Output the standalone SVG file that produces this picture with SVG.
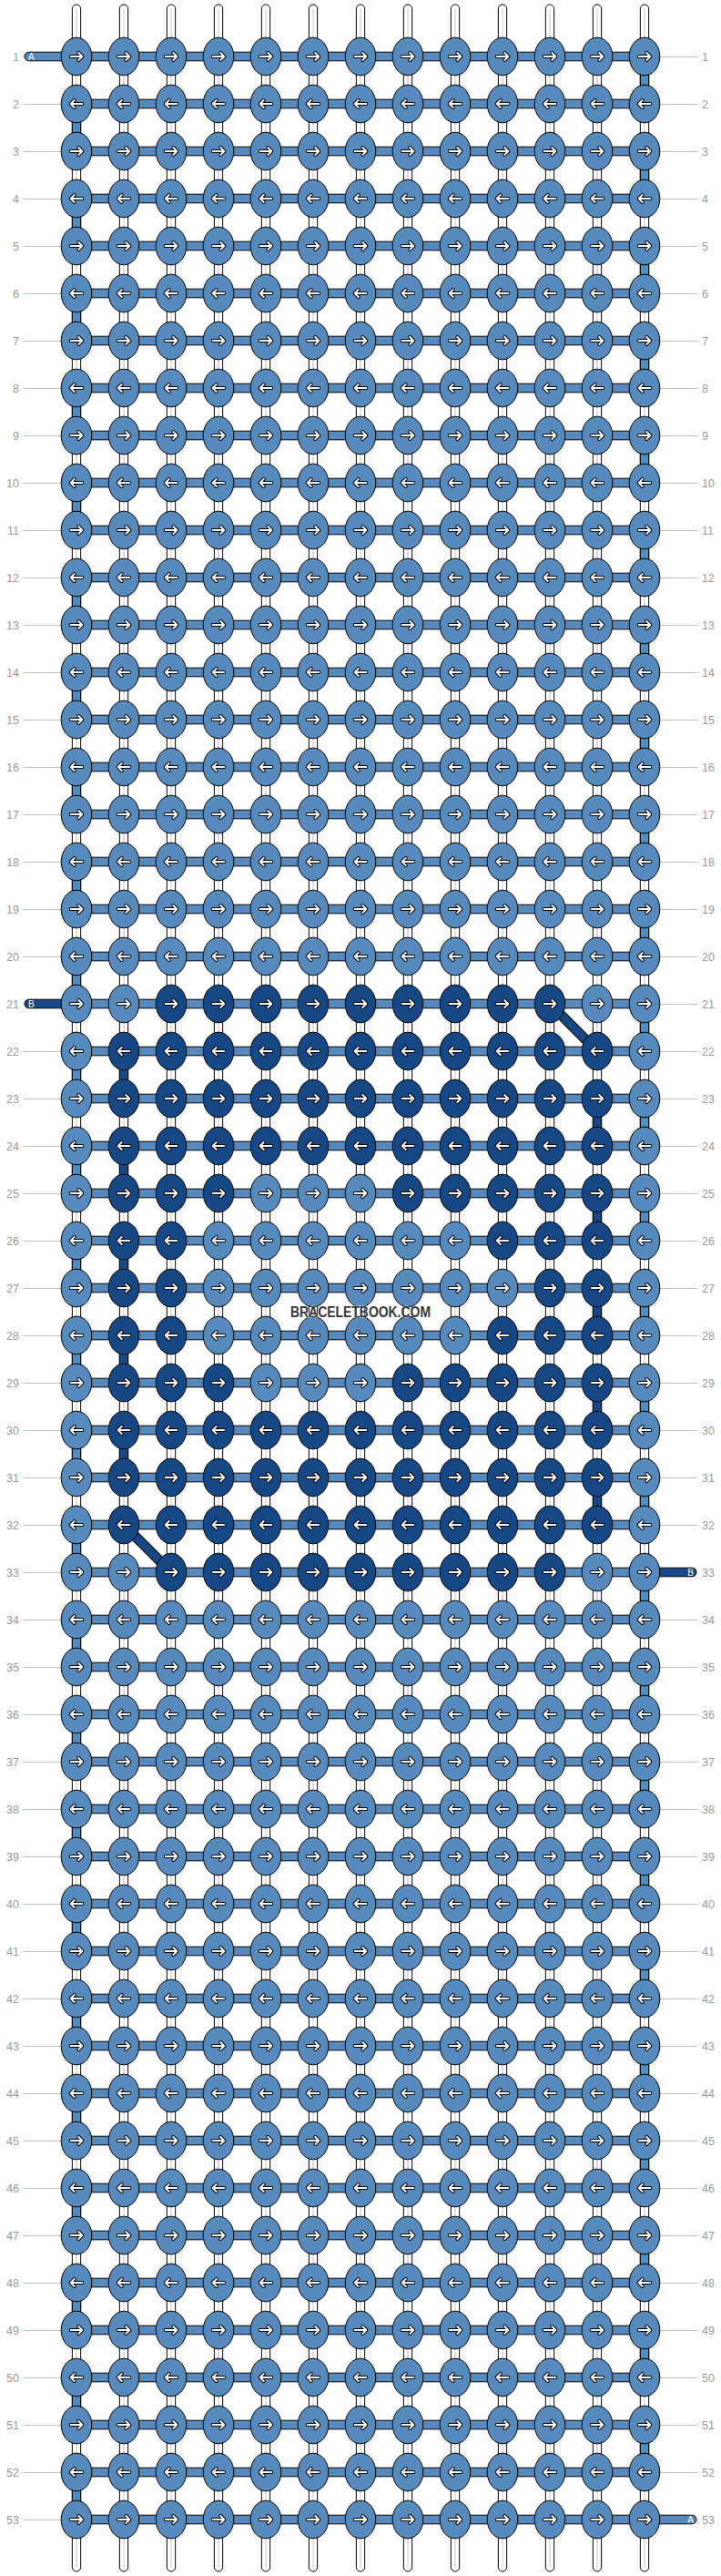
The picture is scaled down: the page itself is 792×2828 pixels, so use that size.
<svg xmlns="http://www.w3.org/2000/svg" xmlns:xlink="http://www.w3.org/1999/xlink" width="792" height="2828" viewBox="0 0 792 2828">
<style>
.w{fill:#fff;stroke:#000;stroke-width:1}
.g{stroke:#c4c4c4;stroke-width:1;fill:none}
.L{fill:#5689bc;stroke:#000;stroke-width:1}
.D{fill:#154885;stroke:#000;stroke-width:1}
.n{font-family:"Liberation Sans",Arial,sans-serif;font-size:12.5px;fill:#999}
.e{text-anchor:end}
.ll{stroke:#c0c0c0;stroke-width:1;fill:none}
.st{font-family:"Liberation Sans",Arial,sans-serif;font-size:10px;fill:#fff}
.ab{fill:none;stroke:#000;stroke-width:4;stroke-linecap:round;stroke-linejoin:round}
.aw{fill:none;stroke:#fff;stroke-width:2;stroke-linecap:round;stroke-linejoin:round}
</style>
<defs>
<g id="ar"><path class="ab" d="M-6.3 0H6.3M2.3-4L6.3 0L2.3 4"/><path class="aw" d="M-6.3 0H6.3M2.3-4L6.3 0L2.3 4"/></g>
<g id="LR"><ellipse rx="16.8" ry="20.8" class="L"/><use href="#ar"/></g>
<g id="LL"><ellipse rx="16.8" ry="20.8" class="L"/><use href="#ar" transform="rotate(180)"/></g>
<g id="DR"><ellipse rx="16.8" ry="20.8" class="D"/><use href="#ar"/></g>
<g id="DL"><ellipse rx="16.8" ry="20.8" class="D"/><use href="#ar" transform="rotate(180)"/></g>
<g id="wp"><rect x="-4.65" y="5" width="9.3" height="2818" rx="4.65" class="w"/><path class="g" d="M0 10V2818"/></g>
<rect id="hb" x="84" y="-4.8" width="624" height="9.6" class="L"/>
<rect id="va" x="-4.65" y="0" width="9.3" height="52" class="L"/>
<rect id="vb" x="-4.65" y="0" width="9.3" height="52" class="D"/>
</defs>
<g id="connectors">
<g id="warps"><use href="#wp" x="84"/><use href="#wp" x="136"/><use href="#wp" x="188"/><use href="#wp" x="240"/><use href="#wp" x="292"/><use href="#wp" x="344"/><use href="#wp" x="396"/><use href="#wp" x="448"/><use href="#wp" x="500"/><use href="#wp" x="552"/><use href="#wp" x="604"/><use href="#wp" x="656"/><use href="#wp" x="708"/></g>
<g id="turnsA">
<use href="#va" x="708" y="62"/><use href="#va" x="84" y="114"/><use href="#va" x="708" y="166"/><use href="#va" x="84" y="218"/><use href="#va" x="708" y="270"/><use href="#va" x="84" y="322"/><use href="#va" x="708" y="374"/><use href="#va" x="84" y="426"/><use href="#va" x="708" y="478"/><use href="#va" x="84" y="530"/><use href="#va" x="708" y="582"/><use href="#va" x="84" y="634"/><use href="#va" x="708" y="686"/><use href="#va" x="84" y="738"/><use href="#va" x="708" y="790"/><use href="#va" x="84" y="842"/><use href="#va" x="708" y="894"/><use href="#va" x="84" y="946"/><use href="#va" x="708" y="998"/><use href="#va" x="84" y="1050"/><use href="#va" x="708" y="1102"/><use href="#va" x="84" y="1154"/><use href="#va" x="708" y="1206"/><use href="#va" x="84" y="1258"/><use href="#va" x="708" y="1310"/><use href="#va" x="84" y="1362"/><use href="#va" x="708" y="1414"/><use href="#va" x="84" y="1466"/><use href="#va" x="708" y="1518"/><use href="#va" x="84" y="1570"/><use href="#va" x="708" y="1622"/><use href="#va" x="84" y="1674"/><use href="#va" x="708" y="1726"/><use href="#va" x="84" y="1778"/><use href="#va" x="708" y="1830"/><use href="#va" x="84" y="1882"/><use href="#va" x="708" y="1934"/><use href="#va" x="84" y="1986"/><use href="#va" x="708" y="2038"/><use href="#va" x="84" y="2090"/><use href="#va" x="708" y="2142"/><use href="#va" x="84" y="2194"/><use href="#va" x="708" y="2246"/><use href="#va" x="84" y="2298"/><use href="#va" x="708" y="2350"/><use href="#va" x="84" y="2402"/><use href="#va" x="708" y="2454"/><use href="#va" x="84" y="2506"/><use href="#va" x="708" y="2558"/><use href="#va" x="84" y="2610"/><use href="#va" x="708" y="2662"/><use href="#va" x="84" y="2714"/>
</g>
<g id="turnsB">
<use href="#vb" x="136" y="1154"/><use href="#vb" x="656" y="1206"/><use href="#vb" x="136" y="1258"/><use href="#vb" x="656" y="1310"/><use href="#vb" x="136" y="1362"/><use href="#vb" x="656" y="1414"/><use href="#vb" x="136" y="1466"/><use href="#vb" x="656" y="1518"/><use href="#vb" x="136" y="1570"/><use href="#vb" x="656" y="1622"/>
</g>
<g id="bands">
<use href="#hb" y="62"/><use href="#hb" y="114"/><use href="#hb" y="166"/><use href="#hb" y="218"/><use href="#hb" y="270"/><use href="#hb" y="322"/><use href="#hb" y="374"/><use href="#hb" y="426"/><use href="#hb" y="478"/><use href="#hb" y="530"/><use href="#hb" y="582"/><use href="#hb" y="634"/><use href="#hb" y="686"/><use href="#hb" y="738"/><use href="#hb" y="790"/><use href="#hb" y="842"/><use href="#hb" y="894"/><use href="#hb" y="946"/><use href="#hb" y="998"/><use href="#hb" y="1050"/><use href="#hb" y="1102"/><use href="#hb" y="1154"/><use href="#hb" y="1206"/><use href="#hb" y="1258"/><use href="#hb" y="1310"/><use href="#hb" y="1362"/><use href="#hb" y="1414"/><use href="#hb" y="1466"/><use href="#hb" y="1518"/><use href="#hb" y="1570"/><use href="#hb" y="1622"/><use href="#hb" y="1674"/><use href="#hb" y="1726"/><use href="#hb" y="1778"/><use href="#hb" y="1830"/><use href="#hb" y="1882"/><use href="#hb" y="1934"/><use href="#hb" y="1986"/><use href="#hb" y="2038"/><use href="#hb" y="2090"/><use href="#hb" y="2142"/><use href="#hb" y="2194"/><use href="#hb" y="2246"/><use href="#hb" y="2298"/><use href="#hb" y="2350"/><use href="#hb" y="2402"/><use href="#hb" y="2454"/><use href="#hb" y="2506"/><use href="#hb" y="2558"/><use href="#hb" y="2610"/><use href="#hb" y="2662"/><use href="#hb" y="2714"/><use href="#hb" y="2766"/>
</g>
<g id="stubs">
<rect x="27" y="57.2" width="50" height="9.6" rx="4.8" class="L"/>
<rect x="27" y="1097.2" width="50" height="9.6" rx="4.8" class="D"/>
<rect x="715" y="1721.2" width="50" height="9.6" rx="4.8" class="D"/>
<rect x="715" y="2761.2" width="50" height="9.6" rx="4.8" class="L"/>
<text class="st" x="31" y="65.8">A</text>
<text class="st" x="31" y="1105.8">B</text>
<text class="st e" x="762" y="1729.8">B</text>
<text class="st e" x="762" y="2769.8">A</text>
</g>
<g id="diagonals">
<path d="M604 1102L656 1154M136 1674L188 1726" stroke="#000" stroke-width="11" fill="none"/>
<path d="M604 1102L656 1154M136 1674L188 1726" stroke="#154885" stroke-width="9" fill="none"/>
</g>
<g id="labellines">
<path class="ll" d="M26 114.5H67M26 166.5H67M26 218.5H67M26 270.5H67M26 322.5H67M26 374.5H67M26 426.5H67M26 478.5H67M26 530.5H67M26 582.5H67M26 634.5H67M26 686.5H67M26 738.5H67M26 790.5H67M26 842.5H67M26 894.5H67M26 946.5H67M26 998.5H67M26 1050.5H67M26 1154.5H67M26 1206.5H67M26 1258.5H67M26 1310.5H67M26 1362.5H67M26 1414.5H67M26 1466.5H67M26 1518.5H67M26 1570.5H67M26 1622.5H67M26 1674.5H67M26 1726.5H67M26 1778.5H67M26 1830.5H67M26 1882.5H67M26 1934.5H67M26 1986.5H67M26 2038.5H67M26 2090.5H67M26 2142.5H67M26 2194.5H67M26 2246.5H67M26 2298.5H67M26 2350.5H67M26 2402.5H67M26 2454.5H67M26 2506.5H67M26 2558.5H67M26 2610.5H67M26 2662.5H67M26 2714.5H67M26 2766.5H67"/>
<path class="ll" d="M725 62.5H766M725 114.5H766M725 166.5H766M725 218.5H766M725 270.5H766M725 322.5H766M725 374.5H766M725 426.5H766M725 478.5H766M725 530.5H766M725 582.5H766M725 634.5H766M725 686.5H766M725 738.5H766M725 790.5H766M725 842.5H766M725 894.5H766M725 946.5H766M725 998.5H766M725 1050.5H766M725 1102.5H766M725 1154.5H766M725 1206.5H766M725 1258.5H766M725 1310.5H766M725 1362.5H766M725 1414.5H766M725 1466.5H766M725 1518.5H766M725 1570.5H766M725 1622.5H766M725 1674.5H766M725 1778.5H766M725 1830.5H766M725 1882.5H766M725 1934.5H766M725 1986.5H766M725 2038.5H766M725 2090.5H766M725 2142.5H766M725 2194.5H766M725 2246.5H766M725 2298.5H766M725 2350.5H766M725 2402.5H766M725 2454.5H766M725 2506.5H766M725 2558.5H766M725 2610.5H766M725 2662.5H766M725 2714.5H766"/>
</g>
</g>
<g id="knots">
<g id="r1" transform="translate(0,62)"><use id="k1-1" href="#LR" x="84"/><use id="k1-2" href="#LR" x="136"/><use id="k1-3" href="#LR" x="188"/><use id="k1-4" href="#LR" x="240"/><use id="k1-5" href="#LR" x="292"/><use id="k1-6" href="#LR" x="344"/><use id="k1-7" href="#LR" x="396"/><use id="k1-8" href="#LR" x="448"/><use id="k1-9" href="#LR" x="500"/><use id="k1-10" href="#LR" x="552"/><use id="k1-11" href="#LR" x="604"/><use id="k1-12" href="#LR" x="656"/><use id="k1-13" href="#LR" x="708"/></g>
<g id="r2" transform="translate(0,114)"><use id="k2-1" href="#LL" x="84"/><use id="k2-2" href="#LL" x="136"/><use id="k2-3" href="#LL" x="188"/><use id="k2-4" href="#LL" x="240"/><use id="k2-5" href="#LL" x="292"/><use id="k2-6" href="#LL" x="344"/><use id="k2-7" href="#LL" x="396"/><use id="k2-8" href="#LL" x="448"/><use id="k2-9" href="#LL" x="500"/><use id="k2-10" href="#LL" x="552"/><use id="k2-11" href="#LL" x="604"/><use id="k2-12" href="#LL" x="656"/><use id="k2-13" href="#LL" x="708"/></g>
<g id="r3" transform="translate(0,166)"><use id="k3-1" href="#LR" x="84"/><use id="k3-2" href="#LR" x="136"/><use id="k3-3" href="#LR" x="188"/><use id="k3-4" href="#LR" x="240"/><use id="k3-5" href="#LR" x="292"/><use id="k3-6" href="#LR" x="344"/><use id="k3-7" href="#LR" x="396"/><use id="k3-8" href="#LR" x="448"/><use id="k3-9" href="#LR" x="500"/><use id="k3-10" href="#LR" x="552"/><use id="k3-11" href="#LR" x="604"/><use id="k3-12" href="#LR" x="656"/><use id="k3-13" href="#LR" x="708"/></g>
<g id="r4" transform="translate(0,218)"><use id="k4-1" href="#LL" x="84"/><use id="k4-2" href="#LL" x="136"/><use id="k4-3" href="#LL" x="188"/><use id="k4-4" href="#LL" x="240"/><use id="k4-5" href="#LL" x="292"/><use id="k4-6" href="#LL" x="344"/><use id="k4-7" href="#LL" x="396"/><use id="k4-8" href="#LL" x="448"/><use id="k4-9" href="#LL" x="500"/><use id="k4-10" href="#LL" x="552"/><use id="k4-11" href="#LL" x="604"/><use id="k4-12" href="#LL" x="656"/><use id="k4-13" href="#LL" x="708"/></g>
<g id="r5" transform="translate(0,270)"><use id="k5-1" href="#LR" x="84"/><use id="k5-2" href="#LR" x="136"/><use id="k5-3" href="#LR" x="188"/><use id="k5-4" href="#LR" x="240"/><use id="k5-5" href="#LR" x="292"/><use id="k5-6" href="#LR" x="344"/><use id="k5-7" href="#LR" x="396"/><use id="k5-8" href="#LR" x="448"/><use id="k5-9" href="#LR" x="500"/><use id="k5-10" href="#LR" x="552"/><use id="k5-11" href="#LR" x="604"/><use id="k5-12" href="#LR" x="656"/><use id="k5-13" href="#LR" x="708"/></g>
<g id="r6" transform="translate(0,322)"><use id="k6-1" href="#LL" x="84"/><use id="k6-2" href="#LL" x="136"/><use id="k6-3" href="#LL" x="188"/><use id="k6-4" href="#LL" x="240"/><use id="k6-5" href="#LL" x="292"/><use id="k6-6" href="#LL" x="344"/><use id="k6-7" href="#LL" x="396"/><use id="k6-8" href="#LL" x="448"/><use id="k6-9" href="#LL" x="500"/><use id="k6-10" href="#LL" x="552"/><use id="k6-11" href="#LL" x="604"/><use id="k6-12" href="#LL" x="656"/><use id="k6-13" href="#LL" x="708"/></g>
<g id="r7" transform="translate(0,374)"><use id="k7-1" href="#LR" x="84"/><use id="k7-2" href="#LR" x="136"/><use id="k7-3" href="#LR" x="188"/><use id="k7-4" href="#LR" x="240"/><use id="k7-5" href="#LR" x="292"/><use id="k7-6" href="#LR" x="344"/><use id="k7-7" href="#LR" x="396"/><use id="k7-8" href="#LR" x="448"/><use id="k7-9" href="#LR" x="500"/><use id="k7-10" href="#LR" x="552"/><use id="k7-11" href="#LR" x="604"/><use id="k7-12" href="#LR" x="656"/><use id="k7-13" href="#LR" x="708"/></g>
<g id="r8" transform="translate(0,426)"><use id="k8-1" href="#LL" x="84"/><use id="k8-2" href="#LL" x="136"/><use id="k8-3" href="#LL" x="188"/><use id="k8-4" href="#LL" x="240"/><use id="k8-5" href="#LL" x="292"/><use id="k8-6" href="#LL" x="344"/><use id="k8-7" href="#LL" x="396"/><use id="k8-8" href="#LL" x="448"/><use id="k8-9" href="#LL" x="500"/><use id="k8-10" href="#LL" x="552"/><use id="k8-11" href="#LL" x="604"/><use id="k8-12" href="#LL" x="656"/><use id="k8-13" href="#LL" x="708"/></g>
<g id="r9" transform="translate(0,478)"><use id="k9-1" href="#LR" x="84"/><use id="k9-2" href="#LR" x="136"/><use id="k9-3" href="#LR" x="188"/><use id="k9-4" href="#LR" x="240"/><use id="k9-5" href="#LR" x="292"/><use id="k9-6" href="#LR" x="344"/><use id="k9-7" href="#LR" x="396"/><use id="k9-8" href="#LR" x="448"/><use id="k9-9" href="#LR" x="500"/><use id="k9-10" href="#LR" x="552"/><use id="k9-11" href="#LR" x="604"/><use id="k9-12" href="#LR" x="656"/><use id="k9-13" href="#LR" x="708"/></g>
<g id="r10" transform="translate(0,530)"><use id="k10-1" href="#LL" x="84"/><use id="k10-2" href="#LL" x="136"/><use id="k10-3" href="#LL" x="188"/><use id="k10-4" href="#LL" x="240"/><use id="k10-5" href="#LL" x="292"/><use id="k10-6" href="#LL" x="344"/><use id="k10-7" href="#LL" x="396"/><use id="k10-8" href="#LL" x="448"/><use id="k10-9" href="#LL" x="500"/><use id="k10-10" href="#LL" x="552"/><use id="k10-11" href="#LL" x="604"/><use id="k10-12" href="#LL" x="656"/><use id="k10-13" href="#LL" x="708"/></g>
<g id="r11" transform="translate(0,582)"><use id="k11-1" href="#LR" x="84"/><use id="k11-2" href="#LR" x="136"/><use id="k11-3" href="#LR" x="188"/><use id="k11-4" href="#LR" x="240"/><use id="k11-5" href="#LR" x="292"/><use id="k11-6" href="#LR" x="344"/><use id="k11-7" href="#LR" x="396"/><use id="k11-8" href="#LR" x="448"/><use id="k11-9" href="#LR" x="500"/><use id="k11-10" href="#LR" x="552"/><use id="k11-11" href="#LR" x="604"/><use id="k11-12" href="#LR" x="656"/><use id="k11-13" href="#LR" x="708"/></g>
<g id="r12" transform="translate(0,634)"><use id="k12-1" href="#LL" x="84"/><use id="k12-2" href="#LL" x="136"/><use id="k12-3" href="#LL" x="188"/><use id="k12-4" href="#LL" x="240"/><use id="k12-5" href="#LL" x="292"/><use id="k12-6" href="#LL" x="344"/><use id="k12-7" href="#LL" x="396"/><use id="k12-8" href="#LL" x="448"/><use id="k12-9" href="#LL" x="500"/><use id="k12-10" href="#LL" x="552"/><use id="k12-11" href="#LL" x="604"/><use id="k12-12" href="#LL" x="656"/><use id="k12-13" href="#LL" x="708"/></g>
<g id="r13" transform="translate(0,686)"><use id="k13-1" href="#LR" x="84"/><use id="k13-2" href="#LR" x="136"/><use id="k13-3" href="#LR" x="188"/><use id="k13-4" href="#LR" x="240"/><use id="k13-5" href="#LR" x="292"/><use id="k13-6" href="#LR" x="344"/><use id="k13-7" href="#LR" x="396"/><use id="k13-8" href="#LR" x="448"/><use id="k13-9" href="#LR" x="500"/><use id="k13-10" href="#LR" x="552"/><use id="k13-11" href="#LR" x="604"/><use id="k13-12" href="#LR" x="656"/><use id="k13-13" href="#LR" x="708"/></g>
<g id="r14" transform="translate(0,738)"><use id="k14-1" href="#LL" x="84"/><use id="k14-2" href="#LL" x="136"/><use id="k14-3" href="#LL" x="188"/><use id="k14-4" href="#LL" x="240"/><use id="k14-5" href="#LL" x="292"/><use id="k14-6" href="#LL" x="344"/><use id="k14-7" href="#LL" x="396"/><use id="k14-8" href="#LL" x="448"/><use id="k14-9" href="#LL" x="500"/><use id="k14-10" href="#LL" x="552"/><use id="k14-11" href="#LL" x="604"/><use id="k14-12" href="#LL" x="656"/><use id="k14-13" href="#LL" x="708"/></g>
<g id="r15" transform="translate(0,790)"><use id="k15-1" href="#LR" x="84"/><use id="k15-2" href="#LR" x="136"/><use id="k15-3" href="#LR" x="188"/><use id="k15-4" href="#LR" x="240"/><use id="k15-5" href="#LR" x="292"/><use id="k15-6" href="#LR" x="344"/><use id="k15-7" href="#LR" x="396"/><use id="k15-8" href="#LR" x="448"/><use id="k15-9" href="#LR" x="500"/><use id="k15-10" href="#LR" x="552"/><use id="k15-11" href="#LR" x="604"/><use id="k15-12" href="#LR" x="656"/><use id="k15-13" href="#LR" x="708"/></g>
<g id="r16" transform="translate(0,842)"><use id="k16-1" href="#LL" x="84"/><use id="k16-2" href="#LL" x="136"/><use id="k16-3" href="#LL" x="188"/><use id="k16-4" href="#LL" x="240"/><use id="k16-5" href="#LL" x="292"/><use id="k16-6" href="#LL" x="344"/><use id="k16-7" href="#LL" x="396"/><use id="k16-8" href="#LL" x="448"/><use id="k16-9" href="#LL" x="500"/><use id="k16-10" href="#LL" x="552"/><use id="k16-11" href="#LL" x="604"/><use id="k16-12" href="#LL" x="656"/><use id="k16-13" href="#LL" x="708"/></g>
<g id="r17" transform="translate(0,894)"><use id="k17-1" href="#LR" x="84"/><use id="k17-2" href="#LR" x="136"/><use id="k17-3" href="#LR" x="188"/><use id="k17-4" href="#LR" x="240"/><use id="k17-5" href="#LR" x="292"/><use id="k17-6" href="#LR" x="344"/><use id="k17-7" href="#LR" x="396"/><use id="k17-8" href="#LR" x="448"/><use id="k17-9" href="#LR" x="500"/><use id="k17-10" href="#LR" x="552"/><use id="k17-11" href="#LR" x="604"/><use id="k17-12" href="#LR" x="656"/><use id="k17-13" href="#LR" x="708"/></g>
<g id="r18" transform="translate(0,946)"><use id="k18-1" href="#LL" x="84"/><use id="k18-2" href="#LL" x="136"/><use id="k18-3" href="#LL" x="188"/><use id="k18-4" href="#LL" x="240"/><use id="k18-5" href="#LL" x="292"/><use id="k18-6" href="#LL" x="344"/><use id="k18-7" href="#LL" x="396"/><use id="k18-8" href="#LL" x="448"/><use id="k18-9" href="#LL" x="500"/><use id="k18-10" href="#LL" x="552"/><use id="k18-11" href="#LL" x="604"/><use id="k18-12" href="#LL" x="656"/><use id="k18-13" href="#LL" x="708"/></g>
<g id="r19" transform="translate(0,998)"><use id="k19-1" href="#LR" x="84"/><use id="k19-2" href="#LR" x="136"/><use id="k19-3" href="#LR" x="188"/><use id="k19-4" href="#LR" x="240"/><use id="k19-5" href="#LR" x="292"/><use id="k19-6" href="#LR" x="344"/><use id="k19-7" href="#LR" x="396"/><use id="k19-8" href="#LR" x="448"/><use id="k19-9" href="#LR" x="500"/><use id="k19-10" href="#LR" x="552"/><use id="k19-11" href="#LR" x="604"/><use id="k19-12" href="#LR" x="656"/><use id="k19-13" href="#LR" x="708"/></g>
<g id="r20" transform="translate(0,1050)"><use id="k20-1" href="#LL" x="84"/><use id="k20-2" href="#LL" x="136"/><use id="k20-3" href="#LL" x="188"/><use id="k20-4" href="#LL" x="240"/><use id="k20-5" href="#LL" x="292"/><use id="k20-6" href="#LL" x="344"/><use id="k20-7" href="#LL" x="396"/><use id="k20-8" href="#LL" x="448"/><use id="k20-9" href="#LL" x="500"/><use id="k20-10" href="#LL" x="552"/><use id="k20-11" href="#LL" x="604"/><use id="k20-12" href="#LL" x="656"/><use id="k20-13" href="#LL" x="708"/></g>
<g id="r21" transform="translate(0,1102)"><use id="k21-1" href="#LR" x="84"/><use id="k21-2" href="#LR" x="136"/><use id="k21-3" href="#DR" x="188"/><use id="k21-4" href="#DR" x="240"/><use id="k21-5" href="#DR" x="292"/><use id="k21-6" href="#DR" x="344"/><use id="k21-7" href="#DR" x="396"/><use id="k21-8" href="#DR" x="448"/><use id="k21-9" href="#DR" x="500"/><use id="k21-10" href="#DR" x="552"/><use id="k21-11" href="#DR" x="604"/><use id="k21-12" href="#LR" x="656"/><use id="k21-13" href="#LR" x="708"/></g>
<g id="r22" transform="translate(0,1154)"><use id="k22-1" href="#LL" x="84"/><use id="k22-2" href="#DL" x="136"/><use id="k22-3" href="#DL" x="188"/><use id="k22-4" href="#DL" x="240"/><use id="k22-5" href="#DL" x="292"/><use id="k22-6" href="#DL" x="344"/><use id="k22-7" href="#DL" x="396"/><use id="k22-8" href="#DL" x="448"/><use id="k22-9" href="#DL" x="500"/><use id="k22-10" href="#DL" x="552"/><use id="k22-11" href="#DL" x="604"/><use id="k22-12" href="#DL" x="656"/><use id="k22-13" href="#LL" x="708"/></g>
<g id="r23" transform="translate(0,1206)"><use id="k23-1" href="#LR" x="84"/><use id="k23-2" href="#DR" x="136"/><use id="k23-3" href="#DR" x="188"/><use id="k23-4" href="#DR" x="240"/><use id="k23-5" href="#DR" x="292"/><use id="k23-6" href="#DR" x="344"/><use id="k23-7" href="#DR" x="396"/><use id="k23-8" href="#DR" x="448"/><use id="k23-9" href="#DR" x="500"/><use id="k23-10" href="#DR" x="552"/><use id="k23-11" href="#DR" x="604"/><use id="k23-12" href="#DR" x="656"/><use id="k23-13" href="#LR" x="708"/></g>
<g id="r24" transform="translate(0,1258)"><use id="k24-1" href="#LL" x="84"/><use id="k24-2" href="#DL" x="136"/><use id="k24-3" href="#DL" x="188"/><use id="k24-4" href="#DL" x="240"/><use id="k24-5" href="#DL" x="292"/><use id="k24-6" href="#DL" x="344"/><use id="k24-7" href="#DL" x="396"/><use id="k24-8" href="#DL" x="448"/><use id="k24-9" href="#DL" x="500"/><use id="k24-10" href="#DL" x="552"/><use id="k24-11" href="#DL" x="604"/><use id="k24-12" href="#DL" x="656"/><use id="k24-13" href="#LL" x="708"/></g>
<g id="r25" transform="translate(0,1310)"><use id="k25-1" href="#LR" x="84"/><use id="k25-2" href="#DR" x="136"/><use id="k25-3" href="#DR" x="188"/><use id="k25-4" href="#DR" x="240"/><use id="k25-5" href="#LR" x="292"/><use id="k25-6" href="#LR" x="344"/><use id="k25-7" href="#LR" x="396"/><use id="k25-8" href="#DR" x="448"/><use id="k25-9" href="#DR" x="500"/><use id="k25-10" href="#DR" x="552"/><use id="k25-11" href="#DR" x="604"/><use id="k25-12" href="#DR" x="656"/><use id="k25-13" href="#LR" x="708"/></g>
<g id="r26" transform="translate(0,1362)"><use id="k26-1" href="#LL" x="84"/><use id="k26-2" href="#DL" x="136"/><use id="k26-3" href="#DL" x="188"/><use id="k26-4" href="#LL" x="240"/><use id="k26-5" href="#LL" x="292"/><use id="k26-6" href="#LL" x="344"/><use id="k26-7" href="#LL" x="396"/><use id="k26-8" href="#LL" x="448"/><use id="k26-9" href="#LL" x="500"/><use id="k26-10" href="#DL" x="552"/><use id="k26-11" href="#DL" x="604"/><use id="k26-12" href="#DL" x="656"/><use id="k26-13" href="#LL" x="708"/></g>
<g id="r27" transform="translate(0,1414)"><use id="k27-1" href="#LR" x="84"/><use id="k27-2" href="#DR" x="136"/><use id="k27-3" href="#DR" x="188"/><use id="k27-4" href="#LR" x="240"/><use id="k27-5" href="#LR" x="292"/><use id="k27-6" href="#LR" x="344"/><use id="k27-7" href="#LR" x="396"/><use id="k27-8" href="#LR" x="448"/><use id="k27-9" href="#LR" x="500"/><use id="k27-10" href="#LR" x="552"/><use id="k27-11" href="#DR" x="604"/><use id="k27-12" href="#DR" x="656"/><use id="k27-13" href="#LR" x="708"/></g>
<g id="r28" transform="translate(0,1466)"><use id="k28-1" href="#LL" x="84"/><use id="k28-2" href="#DL" x="136"/><use id="k28-3" href="#DL" x="188"/><use id="k28-4" href="#LL" x="240"/><use id="k28-5" href="#LL" x="292"/><use id="k28-6" href="#LL" x="344"/><use id="k28-7" href="#LL" x="396"/><use id="k28-8" href="#LL" x="448"/><use id="k28-9" href="#LL" x="500"/><use id="k28-10" href="#DL" x="552"/><use id="k28-11" href="#DL" x="604"/><use id="k28-12" href="#DL" x="656"/><use id="k28-13" href="#LL" x="708"/></g>
<g id="r29" transform="translate(0,1518)"><use id="k29-1" href="#LR" x="84"/><use id="k29-2" href="#DR" x="136"/><use id="k29-3" href="#DR" x="188"/><use id="k29-4" href="#DR" x="240"/><use id="k29-5" href="#LR" x="292"/><use id="k29-6" href="#LR" x="344"/><use id="k29-7" href="#LR" x="396"/><use id="k29-8" href="#DR" x="448"/><use id="k29-9" href="#DR" x="500"/><use id="k29-10" href="#DR" x="552"/><use id="k29-11" href="#DR" x="604"/><use id="k29-12" href="#DR" x="656"/><use id="k29-13" href="#LR" x="708"/></g>
<g id="r30" transform="translate(0,1570)"><use id="k30-1" href="#LL" x="84"/><use id="k30-2" href="#DL" x="136"/><use id="k30-3" href="#DL" x="188"/><use id="k30-4" href="#DL" x="240"/><use id="k30-5" href="#DL" x="292"/><use id="k30-6" href="#DL" x="344"/><use id="k30-7" href="#DL" x="396"/><use id="k30-8" href="#DL" x="448"/><use id="k30-9" href="#DL" x="500"/><use id="k30-10" href="#DL" x="552"/><use id="k30-11" href="#DL" x="604"/><use id="k30-12" href="#DL" x="656"/><use id="k30-13" href="#LL" x="708"/></g>
<g id="r31" transform="translate(0,1622)"><use id="k31-1" href="#LR" x="84"/><use id="k31-2" href="#DR" x="136"/><use id="k31-3" href="#DR" x="188"/><use id="k31-4" href="#DR" x="240"/><use id="k31-5" href="#DR" x="292"/><use id="k31-6" href="#DR" x="344"/><use id="k31-7" href="#DR" x="396"/><use id="k31-8" href="#DR" x="448"/><use id="k31-9" href="#DR" x="500"/><use id="k31-10" href="#DR" x="552"/><use id="k31-11" href="#DR" x="604"/><use id="k31-12" href="#DR" x="656"/><use id="k31-13" href="#LR" x="708"/></g>
<g id="r32" transform="translate(0,1674)"><use id="k32-1" href="#LL" x="84"/><use id="k32-2" href="#DL" x="136"/><use id="k32-3" href="#DL" x="188"/><use id="k32-4" href="#DL" x="240"/><use id="k32-5" href="#DL" x="292"/><use id="k32-6" href="#DL" x="344"/><use id="k32-7" href="#DL" x="396"/><use id="k32-8" href="#DL" x="448"/><use id="k32-9" href="#DL" x="500"/><use id="k32-10" href="#DL" x="552"/><use id="k32-11" href="#DL" x="604"/><use id="k32-12" href="#DL" x="656"/><use id="k32-13" href="#LL" x="708"/></g>
<g id="r33" transform="translate(0,1726)"><use id="k33-1" href="#LR" x="84"/><use id="k33-2" href="#LR" x="136"/><use id="k33-3" href="#DR" x="188"/><use id="k33-4" href="#DR" x="240"/><use id="k33-5" href="#DR" x="292"/><use id="k33-6" href="#DR" x="344"/><use id="k33-7" href="#DR" x="396"/><use id="k33-8" href="#DR" x="448"/><use id="k33-9" href="#DR" x="500"/><use id="k33-10" href="#DR" x="552"/><use id="k33-11" href="#DR" x="604"/><use id="k33-12" href="#LR" x="656"/><use id="k33-13" href="#LR" x="708"/></g>
<g id="r34" transform="translate(0,1778)"><use id="k34-1" href="#LL" x="84"/><use id="k34-2" href="#LL" x="136"/><use id="k34-3" href="#LL" x="188"/><use id="k34-4" href="#LL" x="240"/><use id="k34-5" href="#LL" x="292"/><use id="k34-6" href="#LL" x="344"/><use id="k34-7" href="#LL" x="396"/><use id="k34-8" href="#LL" x="448"/><use id="k34-9" href="#LL" x="500"/><use id="k34-10" href="#LL" x="552"/><use id="k34-11" href="#LL" x="604"/><use id="k34-12" href="#LL" x="656"/><use id="k34-13" href="#LL" x="708"/></g>
<g id="r35" transform="translate(0,1830)"><use id="k35-1" href="#LR" x="84"/><use id="k35-2" href="#LR" x="136"/><use id="k35-3" href="#LR" x="188"/><use id="k35-4" href="#LR" x="240"/><use id="k35-5" href="#LR" x="292"/><use id="k35-6" href="#LR" x="344"/><use id="k35-7" href="#LR" x="396"/><use id="k35-8" href="#LR" x="448"/><use id="k35-9" href="#LR" x="500"/><use id="k35-10" href="#LR" x="552"/><use id="k35-11" href="#LR" x="604"/><use id="k35-12" href="#LR" x="656"/><use id="k35-13" href="#LR" x="708"/></g>
<g id="r36" transform="translate(0,1882)"><use id="k36-1" href="#LL" x="84"/><use id="k36-2" href="#LL" x="136"/><use id="k36-3" href="#LL" x="188"/><use id="k36-4" href="#LL" x="240"/><use id="k36-5" href="#LL" x="292"/><use id="k36-6" href="#LL" x="344"/><use id="k36-7" href="#LL" x="396"/><use id="k36-8" href="#LL" x="448"/><use id="k36-9" href="#LL" x="500"/><use id="k36-10" href="#LL" x="552"/><use id="k36-11" href="#LL" x="604"/><use id="k36-12" href="#LL" x="656"/><use id="k36-13" href="#LL" x="708"/></g>
<g id="r37" transform="translate(0,1934)"><use id="k37-1" href="#LR" x="84"/><use id="k37-2" href="#LR" x="136"/><use id="k37-3" href="#LR" x="188"/><use id="k37-4" href="#LR" x="240"/><use id="k37-5" href="#LR" x="292"/><use id="k37-6" href="#LR" x="344"/><use id="k37-7" href="#LR" x="396"/><use id="k37-8" href="#LR" x="448"/><use id="k37-9" href="#LR" x="500"/><use id="k37-10" href="#LR" x="552"/><use id="k37-11" href="#LR" x="604"/><use id="k37-12" href="#LR" x="656"/><use id="k37-13" href="#LR" x="708"/></g>
<g id="r38" transform="translate(0,1986)"><use id="k38-1" href="#LL" x="84"/><use id="k38-2" href="#LL" x="136"/><use id="k38-3" href="#LL" x="188"/><use id="k38-4" href="#LL" x="240"/><use id="k38-5" href="#LL" x="292"/><use id="k38-6" href="#LL" x="344"/><use id="k38-7" href="#LL" x="396"/><use id="k38-8" href="#LL" x="448"/><use id="k38-9" href="#LL" x="500"/><use id="k38-10" href="#LL" x="552"/><use id="k38-11" href="#LL" x="604"/><use id="k38-12" href="#LL" x="656"/><use id="k38-13" href="#LL" x="708"/></g>
<g id="r39" transform="translate(0,2038)"><use id="k39-1" href="#LR" x="84"/><use id="k39-2" href="#LR" x="136"/><use id="k39-3" href="#LR" x="188"/><use id="k39-4" href="#LR" x="240"/><use id="k39-5" href="#LR" x="292"/><use id="k39-6" href="#LR" x="344"/><use id="k39-7" href="#LR" x="396"/><use id="k39-8" href="#LR" x="448"/><use id="k39-9" href="#LR" x="500"/><use id="k39-10" href="#LR" x="552"/><use id="k39-11" href="#LR" x="604"/><use id="k39-12" href="#LR" x="656"/><use id="k39-13" href="#LR" x="708"/></g>
<g id="r40" transform="translate(0,2090)"><use id="k40-1" href="#LL" x="84"/><use id="k40-2" href="#LL" x="136"/><use id="k40-3" href="#LL" x="188"/><use id="k40-4" href="#LL" x="240"/><use id="k40-5" href="#LL" x="292"/><use id="k40-6" href="#LL" x="344"/><use id="k40-7" href="#LL" x="396"/><use id="k40-8" href="#LL" x="448"/><use id="k40-9" href="#LL" x="500"/><use id="k40-10" href="#LL" x="552"/><use id="k40-11" href="#LL" x="604"/><use id="k40-12" href="#LL" x="656"/><use id="k40-13" href="#LL" x="708"/></g>
<g id="r41" transform="translate(0,2142)"><use id="k41-1" href="#LR" x="84"/><use id="k41-2" href="#LR" x="136"/><use id="k41-3" href="#LR" x="188"/><use id="k41-4" href="#LR" x="240"/><use id="k41-5" href="#LR" x="292"/><use id="k41-6" href="#LR" x="344"/><use id="k41-7" href="#LR" x="396"/><use id="k41-8" href="#LR" x="448"/><use id="k41-9" href="#LR" x="500"/><use id="k41-10" href="#LR" x="552"/><use id="k41-11" href="#LR" x="604"/><use id="k41-12" href="#LR" x="656"/><use id="k41-13" href="#LR" x="708"/></g>
<g id="r42" transform="translate(0,2194)"><use id="k42-1" href="#LL" x="84"/><use id="k42-2" href="#LL" x="136"/><use id="k42-3" href="#LL" x="188"/><use id="k42-4" href="#LL" x="240"/><use id="k42-5" href="#LL" x="292"/><use id="k42-6" href="#LL" x="344"/><use id="k42-7" href="#LL" x="396"/><use id="k42-8" href="#LL" x="448"/><use id="k42-9" href="#LL" x="500"/><use id="k42-10" href="#LL" x="552"/><use id="k42-11" href="#LL" x="604"/><use id="k42-12" href="#LL" x="656"/><use id="k42-13" href="#LL" x="708"/></g>
<g id="r43" transform="translate(0,2246)"><use id="k43-1" href="#LR" x="84"/><use id="k43-2" href="#LR" x="136"/><use id="k43-3" href="#LR" x="188"/><use id="k43-4" href="#LR" x="240"/><use id="k43-5" href="#LR" x="292"/><use id="k43-6" href="#LR" x="344"/><use id="k43-7" href="#LR" x="396"/><use id="k43-8" href="#LR" x="448"/><use id="k43-9" href="#LR" x="500"/><use id="k43-10" href="#LR" x="552"/><use id="k43-11" href="#LR" x="604"/><use id="k43-12" href="#LR" x="656"/><use id="k43-13" href="#LR" x="708"/></g>
<g id="r44" transform="translate(0,2298)"><use id="k44-1" href="#LL" x="84"/><use id="k44-2" href="#LL" x="136"/><use id="k44-3" href="#LL" x="188"/><use id="k44-4" href="#LL" x="240"/><use id="k44-5" href="#LL" x="292"/><use id="k44-6" href="#LL" x="344"/><use id="k44-7" href="#LL" x="396"/><use id="k44-8" href="#LL" x="448"/><use id="k44-9" href="#LL" x="500"/><use id="k44-10" href="#LL" x="552"/><use id="k44-11" href="#LL" x="604"/><use id="k44-12" href="#LL" x="656"/><use id="k44-13" href="#LL" x="708"/></g>
<g id="r45" transform="translate(0,2350)"><use id="k45-1" href="#LR" x="84"/><use id="k45-2" href="#LR" x="136"/><use id="k45-3" href="#LR" x="188"/><use id="k45-4" href="#LR" x="240"/><use id="k45-5" href="#LR" x="292"/><use id="k45-6" href="#LR" x="344"/><use id="k45-7" href="#LR" x="396"/><use id="k45-8" href="#LR" x="448"/><use id="k45-9" href="#LR" x="500"/><use id="k45-10" href="#LR" x="552"/><use id="k45-11" href="#LR" x="604"/><use id="k45-12" href="#LR" x="656"/><use id="k45-13" href="#LR" x="708"/></g>
<g id="r46" transform="translate(0,2402)"><use id="k46-1" href="#LL" x="84"/><use id="k46-2" href="#LL" x="136"/><use id="k46-3" href="#LL" x="188"/><use id="k46-4" href="#LL" x="240"/><use id="k46-5" href="#LL" x="292"/><use id="k46-6" href="#LL" x="344"/><use id="k46-7" href="#LL" x="396"/><use id="k46-8" href="#LL" x="448"/><use id="k46-9" href="#LL" x="500"/><use id="k46-10" href="#LL" x="552"/><use id="k46-11" href="#LL" x="604"/><use id="k46-12" href="#LL" x="656"/><use id="k46-13" href="#LL" x="708"/></g>
<g id="r47" transform="translate(0,2454)"><use id="k47-1" href="#LR" x="84"/><use id="k47-2" href="#LR" x="136"/><use id="k47-3" href="#LR" x="188"/><use id="k47-4" href="#LR" x="240"/><use id="k47-5" href="#LR" x="292"/><use id="k47-6" href="#LR" x="344"/><use id="k47-7" href="#LR" x="396"/><use id="k47-8" href="#LR" x="448"/><use id="k47-9" href="#LR" x="500"/><use id="k47-10" href="#LR" x="552"/><use id="k47-11" href="#LR" x="604"/><use id="k47-12" href="#LR" x="656"/><use id="k47-13" href="#LR" x="708"/></g>
<g id="r48" transform="translate(0,2506)"><use id="k48-1" href="#LL" x="84"/><use id="k48-2" href="#LL" x="136"/><use id="k48-3" href="#LL" x="188"/><use id="k48-4" href="#LL" x="240"/><use id="k48-5" href="#LL" x="292"/><use id="k48-6" href="#LL" x="344"/><use id="k48-7" href="#LL" x="396"/><use id="k48-8" href="#LL" x="448"/><use id="k48-9" href="#LL" x="500"/><use id="k48-10" href="#LL" x="552"/><use id="k48-11" href="#LL" x="604"/><use id="k48-12" href="#LL" x="656"/><use id="k48-13" href="#LL" x="708"/></g>
<g id="r49" transform="translate(0,2558)"><use id="k49-1" href="#LR" x="84"/><use id="k49-2" href="#LR" x="136"/><use id="k49-3" href="#LR" x="188"/><use id="k49-4" href="#LR" x="240"/><use id="k49-5" href="#LR" x="292"/><use id="k49-6" href="#LR" x="344"/><use id="k49-7" href="#LR" x="396"/><use id="k49-8" href="#LR" x="448"/><use id="k49-9" href="#LR" x="500"/><use id="k49-10" href="#LR" x="552"/><use id="k49-11" href="#LR" x="604"/><use id="k49-12" href="#LR" x="656"/><use id="k49-13" href="#LR" x="708"/></g>
<g id="r50" transform="translate(0,2610)"><use id="k50-1" href="#LL" x="84"/><use id="k50-2" href="#LL" x="136"/><use id="k50-3" href="#LL" x="188"/><use id="k50-4" href="#LL" x="240"/><use id="k50-5" href="#LL" x="292"/><use id="k50-6" href="#LL" x="344"/><use id="k50-7" href="#LL" x="396"/><use id="k50-8" href="#LL" x="448"/><use id="k50-9" href="#LL" x="500"/><use id="k50-10" href="#LL" x="552"/><use id="k50-11" href="#LL" x="604"/><use id="k50-12" href="#LL" x="656"/><use id="k50-13" href="#LL" x="708"/></g>
<g id="r51" transform="translate(0,2662)"><use id="k51-1" href="#LR" x="84"/><use id="k51-2" href="#LR" x="136"/><use id="k51-3" href="#LR" x="188"/><use id="k51-4" href="#LR" x="240"/><use id="k51-5" href="#LR" x="292"/><use id="k51-6" href="#LR" x="344"/><use id="k51-7" href="#LR" x="396"/><use id="k51-8" href="#LR" x="448"/><use id="k51-9" href="#LR" x="500"/><use id="k51-10" href="#LR" x="552"/><use id="k51-11" href="#LR" x="604"/><use id="k51-12" href="#LR" x="656"/><use id="k51-13" href="#LR" x="708"/></g>
<g id="r52" transform="translate(0,2714)"><use id="k52-1" href="#LL" x="84"/><use id="k52-2" href="#LL" x="136"/><use id="k52-3" href="#LL" x="188"/><use id="k52-4" href="#LL" x="240"/><use id="k52-5" href="#LL" x="292"/><use id="k52-6" href="#LL" x="344"/><use id="k52-7" href="#LL" x="396"/><use id="k52-8" href="#LL" x="448"/><use id="k52-9" href="#LL" x="500"/><use id="k52-10" href="#LL" x="552"/><use id="k52-11" href="#LL" x="604"/><use id="k52-12" href="#LL" x="656"/><use id="k52-13" href="#LL" x="708"/></g>
<g id="r53" transform="translate(0,2766)"><use id="k53-1" href="#LR" x="84"/><use id="k53-2" href="#LR" x="136"/><use id="k53-3" href="#LR" x="188"/><use id="k53-4" href="#LR" x="240"/><use id="k53-5" href="#LR" x="292"/><use id="k53-6" href="#LR" x="344"/><use id="k53-7" href="#LR" x="396"/><use id="k53-8" href="#LR" x="448"/><use id="k53-9" href="#LR" x="500"/><use id="k53-10" href="#LR" x="552"/><use id="k53-11" href="#LR" x="604"/><use id="k53-12" href="#LR" x="656"/><use id="k53-13" href="#LR" x="708"/></g>
</g>
<g id="labels-left">
<text class="n e" x="21" y="66.5">1</text><text class="n e" x="21" y="118.5">2</text><text class="n e" x="21" y="170.5">3</text><text class="n e" x="21" y="222.5">4</text><text class="n e" x="21" y="274.5">5</text><text class="n e" x="21" y="326.5">6</text><text class="n e" x="21" y="378.5">7</text><text class="n e" x="21" y="430.5">8</text><text class="n e" x="21" y="482.5">9</text><text class="n e" x="21" y="534.5">10</text><text class="n e" x="21" y="586.5">11</text><text class="n e" x="21" y="638.5">12</text><text class="n e" x="21" y="690.5">13</text><text class="n e" x="21" y="742.5">14</text><text class="n e" x="21" y="794.5">15</text><text class="n e" x="21" y="846.5">16</text><text class="n e" x="21" y="898.5">17</text><text class="n e" x="21" y="950.5">18</text><text class="n e" x="21" y="1002.5">19</text><text class="n e" x="21" y="1054.5">20</text><text class="n e" x="21" y="1106.5">21</text><text class="n e" x="21" y="1158.5">22</text><text class="n e" x="21" y="1210.5">23</text><text class="n e" x="21" y="1262.5">24</text><text class="n e" x="21" y="1314.5">25</text><text class="n e" x="21" y="1366.5">26</text><text class="n e" x="21" y="1418.5">27</text><text class="n e" x="21" y="1470.5">28</text><text class="n e" x="21" y="1522.5">29</text><text class="n e" x="21" y="1574.5">30</text><text class="n e" x="21" y="1626.5">31</text><text class="n e" x="21" y="1678.5">32</text><text class="n e" x="21" y="1730.5">33</text><text class="n e" x="21" y="1782.5">34</text><text class="n e" x="21" y="1834.5">35</text><text class="n e" x="21" y="1886.5">36</text><text class="n e" x="21" y="1938.5">37</text><text class="n e" x="21" y="1990.5">38</text><text class="n e" x="21" y="2042.5">39</text><text class="n e" x="21" y="2094.5">40</text><text class="n e" x="21" y="2146.5">41</text><text class="n e" x="21" y="2198.5">42</text><text class="n e" x="21" y="2250.5">43</text><text class="n e" x="21" y="2302.5">44</text><text class="n e" x="21" y="2354.5">45</text><text class="n e" x="21" y="2406.5">46</text><text class="n e" x="21" y="2458.5">47</text><text class="n e" x="21" y="2510.5">48</text><text class="n e" x="21" y="2562.5">49</text><text class="n e" x="21" y="2614.5">50</text><text class="n e" x="21" y="2666.5">51</text><text class="n e" x="21" y="2718.5">52</text><text class="n e" x="21" y="2770.5">53</text>
</g>
<g id="labels-right">
<text class="n" x="771" y="66.5">1</text><text class="n" x="771" y="118.5">2</text><text class="n" x="771" y="170.5">3</text><text class="n" x="771" y="222.5">4</text><text class="n" x="771" y="274.5">5</text><text class="n" x="771" y="326.5">6</text><text class="n" x="771" y="378.5">7</text><text class="n" x="771" y="430.5">8</text><text class="n" x="771" y="482.5">9</text><text class="n" x="771" y="534.5">10</text><text class="n" x="771" y="586.5">11</text><text class="n" x="771" y="638.5">12</text><text class="n" x="771" y="690.5">13</text><text class="n" x="771" y="742.5">14</text><text class="n" x="771" y="794.5">15</text><text class="n" x="771" y="846.5">16</text><text class="n" x="771" y="898.5">17</text><text class="n" x="771" y="950.5">18</text><text class="n" x="771" y="1002.5">19</text><text class="n" x="771" y="1054.5">20</text><text class="n" x="771" y="1106.5">21</text><text class="n" x="771" y="1158.5">22</text><text class="n" x="771" y="1210.5">23</text><text class="n" x="771" y="1262.5">24</text><text class="n" x="771" y="1314.5">25</text><text class="n" x="771" y="1366.5">26</text><text class="n" x="771" y="1418.5">27</text><text class="n" x="771" y="1470.5">28</text><text class="n" x="771" y="1522.5">29</text><text class="n" x="771" y="1574.5">30</text><text class="n" x="771" y="1626.5">31</text><text class="n" x="771" y="1678.5">32</text><text class="n" x="771" y="1730.5">33</text><text class="n" x="771" y="1782.5">34</text><text class="n" x="771" y="1834.5">35</text><text class="n" x="771" y="1886.5">36</text><text class="n" x="771" y="1938.5">37</text><text class="n" x="771" y="1990.5">38</text><text class="n" x="771" y="2042.5">39</text><text class="n" x="771" y="2094.5">40</text><text class="n" x="771" y="2146.5">41</text><text class="n" x="771" y="2198.5">42</text><text class="n" x="771" y="2250.5">43</text><text class="n" x="771" y="2302.5">44</text><text class="n" x="771" y="2354.5">45</text><text class="n" x="771" y="2406.5">46</text><text class="n" x="771" y="2458.5">47</text><text class="n" x="771" y="2510.5">48</text><text class="n" x="771" y="2562.5">49</text><text class="n" x="771" y="2614.5">50</text><text class="n" x="771" y="2666.5">51</text><text class="n" x="771" y="2718.5">52</text><text class="n" x="771" y="2770.5">53</text>
</g>
<text id="watermark" x="396" y="1445.5" text-anchor="middle" font-family="'Liberation Sans',Arial,sans-serif" font-weight="bold" font-size="16.5" textLength="154" lengthAdjust="spacingAndGlyphs" fill="#383838" stroke="#fff" stroke-opacity="0.5" stroke-width="1.5" paint-order="stroke">BRACELETBOOK.COM</text>
</svg>
